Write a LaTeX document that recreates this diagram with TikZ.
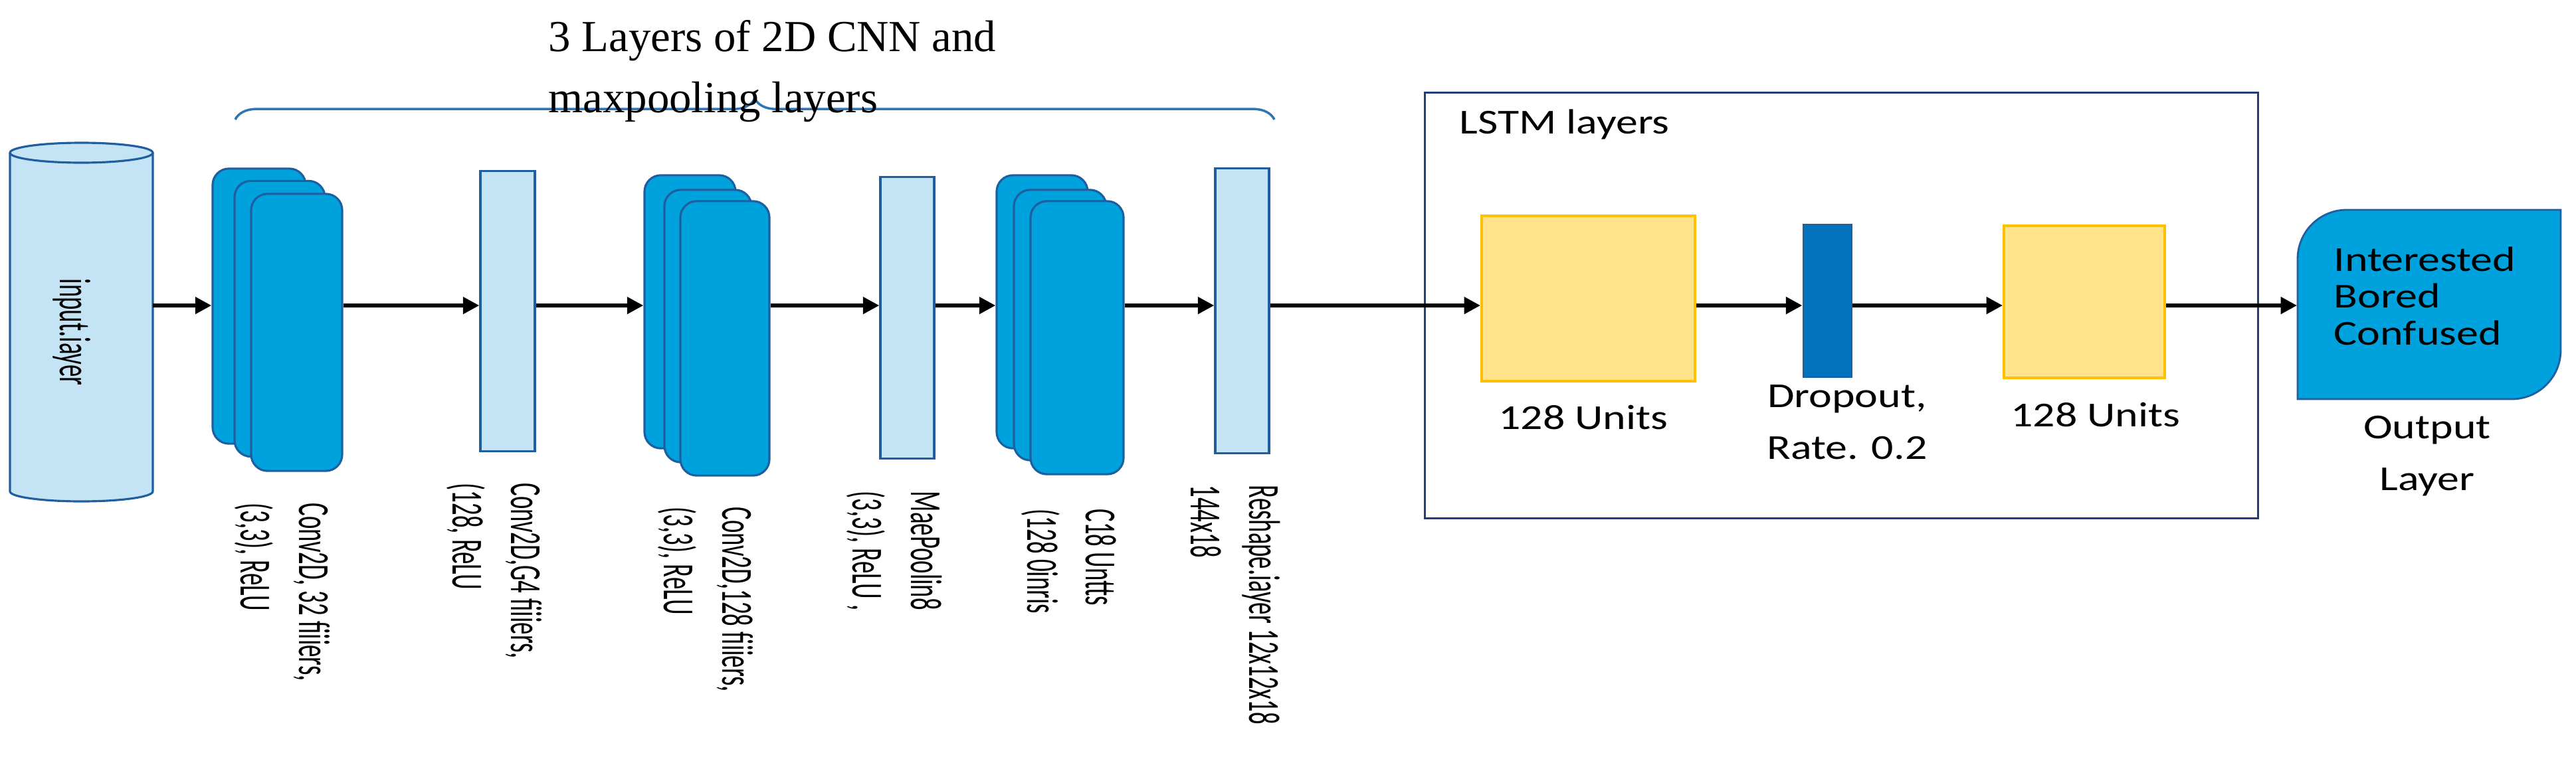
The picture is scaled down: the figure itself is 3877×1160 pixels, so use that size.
\documentclass[tikz,border=0pt]{standalone}
\usepackage{fontspec}
\setmainfont{Carlito}
\newfontfamily\titlefont{Liberation Serif}
\usetikzlibrary{decorations.pathreplacing,arrows.meta}
\definecolor{cblue}{HTML}{00A2DE}
\definecolor{cedge}{HTML}{1F5F9F}
\definecolor{clight}{HTML}{C4E3F5}
\definecolor{cyel}{HTML}{FFE48C}
\definecolor{cyedge}{HTML}{FFC000}
\definecolor{cdrop}{HTML}{0272BC}
\definecolor{cbox}{HTML}{1F3E7A}
\definecolor{cbrace}{HTML}{2E75B6}
\tikzset{
 card/.style={draw=cedge,line width=0.9pt,fill=cblue,rounded corners=7pt,inner sep=0},
 lrect/.style={draw=cedge,line width=0.9pt,fill=clight,inner sep=0},
 yrect/.style={draw=cyedge,line width=1pt,fill=cyel,inner sep=0},
 arr/.style={line width=1.8pt,-{Triangle[length=7pt,width=7pt]}},
 vlab/.style={rotate=-90,anchor=north west,inner sep=0,font=\fontsize{19}{25}\selectfont},
 hlab/.style={font=\fontsize{15}{19}\selectfont,align=center,inner sep=0}
}
\newcommand{\cond}[1]{\scalebox{0.55}[1]{\begin{tabular}{@{}l@{}}#1\end{tabular}}}
\begin{document}
\begin{tikzpicture}[x=0.01cm,y=-0.01cm]
\useasboundingbox (0,0) rectangle (3877,1160);
\coordinate (ay) at (0,460);
% cylinder
\fill[clight] (15,230) rectangle (230,740);
\fill[clight] (122.5,740) ellipse [x radius=107.5,y radius=15];
\draw[cedge,line width=0.9pt,fill=clight] (122.5,230) ellipse [x radius=107.5,y radius=15];
\draw[cedge,line width=0.9pt] (230,230) -- (230,740) arc[start angle=0,end angle=180,x radius=107.5,y radius=15] -- (15,230);
\node[rotate=-90,inner sep=0,font=\fontsize{19}{25}\selectfont] (in) at (108,500) {\cond{input.iayer}};
\coordinate (inE) at (230,460);
% stack 1
\node[card,minimum width=1.40cm,minimum height=4.14cm] (s1a) at (390,461) {};
\node[card,minimum width=1.36cm,minimum height=4.15cm] (s1b) at (421,480) {};
\node[card,minimum width=1.37cm,minimum height=4.17cm] (s1c) at (446.5,500.5) {};
\node[vlab] at (513,757) {\cond{Conv2D, 32 fiiiers,\\(3,3), ReLU}};
% rect 2
\node[lrect,minimum width=0.82cm,minimum height=4.21cm] (r2) at (764,468.5) {};
\node[vlab] at (832,727) {\cond{Conv2D,G4 fiiiers,\\(128, ReLU}};
% stack 2
\node[card,minimum width=1.37cm,minimum height=4.11cm] (s2a) at (1038.5,469.5) {};
\node[card,minimum width=1.31cm,minimum height=4.10cm] (s2b) at (1065.5,491) {};
\node[card,minimum width=1.34cm,minimum height=4.13cm] (s2c) at (1091,509.5) {};
\node[vlab] at (1150,763) {\cond{Conv2D,128 fiiiers,\\(3,3), ReLU}};
% maxpool
\node[lrect,minimum width=0.81cm,minimum height=4.23cm] (r4) at (1365.5,478.5) {};
\node[vlab] at (1434,739) {\cond{MaePoolin8\\(3,3), ReLU ,}};
% stack 3
\node[card,minimum width=1.37cm,minimum height=4.11cm] (s3a) at (1568.5,469.5) {};
\node[card,minimum width=1.39cm,minimum height=4.07cm] (s3b) at (1595.5,489.5) {};
\node[card,minimum width=1.40cm,minimum height=4.11cm] (s3c) at (1621,508.5) {};
\node[vlab] at (1697,766) {\cond{C18 Untts\\(128 0inris}};
% reshape
\node[lrect,minimum width=0.81cm,minimum height=4.28cm] (r6) at (1869.5,468) {};
\node[vlab] at (1943,730) {\cond{Reshape.iayer 12x12x18\\144x18}};
% brace + title
\draw[cbrace,line width=1pt,decorate,decoration={brace,amplitude=9pt}] (354,180) -- (1918,180);
\node[anchor=north west,inner sep=0,align=left,font=\titlefont\fontsize{19}{26}\selectfont] (title) at (825,30) {3 Layers of 2D CNN and\\maxpooling layers};
% LSTM box
\node[draw=cbox,line width=0.9pt,minimum width=12.53cm,minimum height=6.40cm,inner sep=0] (lstm) at (2771.5,460) {};
\node[anchor=west,font=\fontsize{15}{18}\selectfont,inner sep=0] (lt) at (2196,187) {\scalebox{1.25}[1]{LSTM layers}};
\node[yrect,minimum width=3.21cm,minimum height=2.49cm] (y1) at (2390.5,449.5) {};
\node[draw=cedge,fill=cdrop,line width=0.8pt,minimum width=0.73cm,minimum height=2.30cm,inner sep=0] (dr) at (2750.5,453) {};
\node[yrect,minimum width=2.42cm,minimum height=2.29cm] (y2) at (3137,454.5) {};
\node[hlab] at (2383,629) {\scalebox{1.25}[1]{128 Units}};
\node[hlab] at (2780,639) {\scalebox{1.25}[1]{\begin{tabular}{c}Dropout,\\[3pt]Rate. 0.2\end{tabular}}};
\node[hlab] at (3154,625) {\scalebox{1.25}[1]{128 Units}};
% output
\filldraw[fill=cblue,draw=cedge,line width=0.8pt] (3458,601) [rounded corners=21pt] -- (3458,316) [sharp corners] -- (3854,316) [rounded corners=21pt] -- (3854,601) [sharp corners] -- cycle;
\node[inner sep=0,minimum width=3.96cm,minimum height=2.85cm] (out) at (3656,458.5) {};
\node[anchor=west,align=left,inner sep=0,font=\fontsize{15}{14.5}\selectfont] at (3512,453) {\scalebox{1.25}[1]{\begin{tabular}{@{}l@{}}Interested\\[1pt]Bored\\[1pt]Confused\end{tabular}}};
\node[hlab] at (3653,686) {\scalebox{1.25}[1]{\begin{tabular}{c}Output\\[3pt]Layer\end{tabular}}};
% arrows
\draw[arr] (inE) -- (s1a.west |- ay);
\draw[arr] (s1c.east |- ay) -- (r2.west |- ay);
\draw[arr] (r2.east |- ay) -- (s2a.west |- ay);
\draw[arr] (s2c.east |- ay) -- (r4.west |- ay);
\draw[arr] (r4.east |- ay) -- (s3a.west |- ay);
\draw[arr] (s3c.east |- ay) -- (r6.west |- ay);
\draw[arr] (r6.east |- ay) -- (y1.west |- ay);
\draw[arr] (y1.east |- ay) -- (dr.west |- ay);
\draw[arr] (dr.east |- ay) -- (y2.west |- ay);
\draw[arr] (y2.east |- ay) -- (out.west |- ay);
\end{tikzpicture}
\end{document}
